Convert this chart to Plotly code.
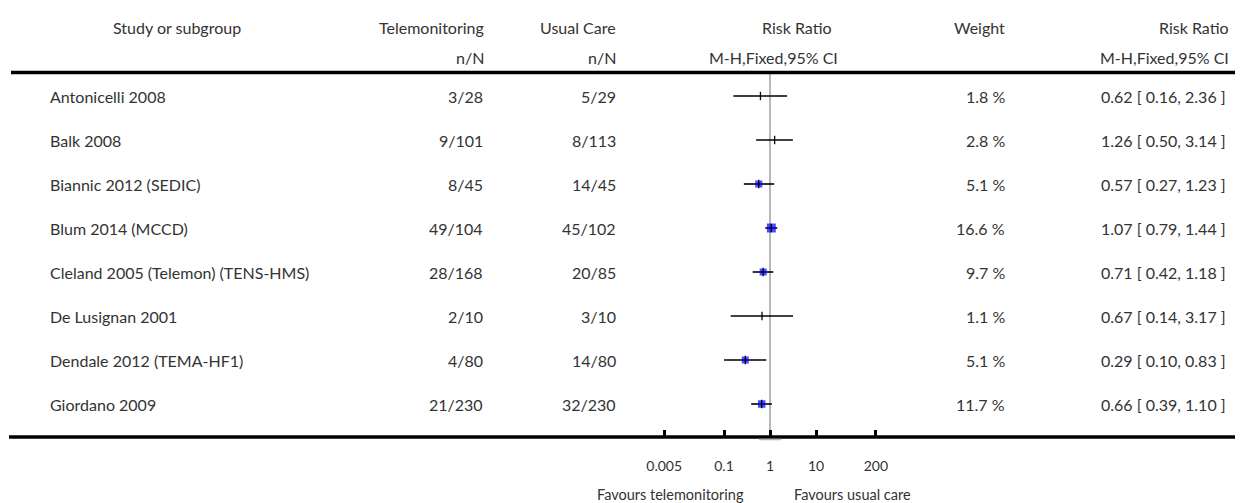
import math
import plotly.graph_objects as go

# ---------------- data ----------------
studies = ["Antonicelli 2008", "Balk 2008", "Biannic 2012 (SEDIC)", "Blum 2014 (MCCD)",
           "Cleland 2005 (Telemon) (TENS-HMS)", "De Lusignan 2001",
           "Dendale 2012 (TEMA-HF1)", "Giordano 2009"]
tele_events = ["3/28", "9/101", "8/45", "49/104", "28/168", "2/10", "4/80", "21/230"]
usual_events = ["5/29", "8/113", "14/45", "45/102", "20/85", "3/10", "14/80", "32/230"]
rr = [0.62, 1.26, 0.57, 1.07, 0.71, 0.67, 0.29, 0.66]
ci_low = [0.16, 0.50, 0.27, 0.79, 0.42, 0.14, 0.10, 0.39]
ci_high = [2.36, 3.14, 1.23, 1.44, 1.18, 3.17, 0.83, 1.10]
weights = [1.8, 2.8, 5.1, 16.6, 9.7, 1.1, 5.1, 11.7]
tick_vals = [0.005, 0.1, 1, 10, 200]
tick_text = ["0.005", "0.1", "1", "10", "200"]

# ---------------- layout constants (screen pixels) ----------------
OFF = 8                 # default body margin of the page
SW, SH = 1243, 503
W, H = SW - OFF, SH - OFF
FONT = "Lato"
TXT = "#333333"
FS = 16
PX_DEC = 46.0          # pixels per decade
X_ONE = 770.0          # screen pixel where RR = 1
ROW0, ROW_H = 96.0, 44.0
AX_Y = 437.0           # screen pixel of the bottom axis line

def px(x):
    return (x - OFF) / W

def py(y):
    return 1 - (y - OFF) / H

rows = list(range(len(studies)))
x_range = [-(X_ONE - OFF) / PX_DEC, (SW - X_ONE) / PX_DEC]
y_range = [(AX_Y - ROW0) / ROW_H, -(ROW0 - OFF) / ROW_H]

fig = go.Figure()

# CI lines
cx, cy = [], []
for i in rows:
    cx += [ci_low[i], ci_high[i], None]
    cy += [i, i, None]
fig.add_trace(go.Scatter(x=cx, y=cy, mode="lines",
                         line=dict(color="black", width=1.6),
                         hoverinfo="skip", showlegend=False))

# weight boxes
def box_size(w):
    return 0 if w < 3 else max(7, 2.2 * math.sqrt(w))

fig.add_trace(go.Scatter(x=rr, y=rows, mode="markers",
                         marker=dict(symbol="square", color="#0000ff",
                                     size=[box_size(w) for w in weights],
                                     line=dict(width=0)),
                         showlegend=False, hoverinfo="skip"))
# point estimate ticks
fig.add_trace(go.Scatter(x=rr, y=rows, mode="markers",
                         marker=dict(symbol="line-ns", size=6,
                                     line=dict(color="black", width=1.3)),
                         showlegend=False, hoverinfo="skip"))

ann = []

def text(x, y, s, anchor, yref="paper", size=FS):
    ann.append(dict(x=x, y=y, xref="paper", yref=yref, text=s, showarrow=False,
                    xanchor=anchor, yanchor="middle",
                    font=dict(family=FONT, size=size, color=TXT)))

# headers
text(px(177), py(27), "Study or subgroup", "center")
text(px(486), py(27), "Telemonitoring", "right")
text(px(618), py(27), "Usual Care", "right")
text(px(797), py(27), "Risk Ratio", "center")
text(px(1007), py(27), "Weight", "right")
text(px(1231), py(27), "Risk Ratio", "right")
text(px(486), py(58), "n/N", "right")
text(px(618), py(58), "n/N", "right")
text(px(773), py(58), "M-H,Fixed,95% CI", "center")
text(px(1231), py(58), "M-H,Fixed,95% CI", "right")

# rows
for i in rows:
    text(px(48), i, studies[i], "left", yref="y")
    text(px(485), i, tele_events[i], "right", yref="y")
    text(px(618), i, usual_events[i], "right", yref="y")
    text(px(1007), i, f"{weights[i]:.1f} %", "right", yref="y")
    text(px(1228), i, f"{rr[i]:.2f} [ {ci_low[i]:.2f}, {ci_high[i]:.2f} ]", "right", yref="y")

# footer
text(px(746), py(494), "Favours telemonitoring", "right", size=14.5)
text(px(792), py(494), "Favours usual care", "left", size=14.5)

shapes = [
    # top rule
    dict(type="line", xref="paper", yref="paper", x0=px(11), x1=1, y0=py(72.5), y1=py(72.5),
         line=dict(color="black", width=3.5)),
    # bottom rule / axis line
    dict(type="line", xref="paper", yref="paper", x0=px(9), x1=1, y0=py(AX_Y), y1=py(AX_Y),
         line=dict(color="black", width=3.5)),
    # line of no effect
    dict(type="line", xref="x", yref="paper", x0=1, x1=1, y0=py(72), y1=py(AX_Y),
         line=dict(color="#b8b8b8", width=2), layer="below"),
    # small grey bar under the axis at RR = 1
    dict(type="line", xref="paper", yref="paper", x0=px(759), x1=px(781),
         y0=py(439.5), y1=py(439.5), line=dict(color="#b0b0b0", width=1.5)),
]

fig.update_layout(
    width=W, height=H,
    margin=dict(l=0, r=0, t=0, b=0),
    paper_bgcolor="white", plot_bgcolor="white",
    annotations=ann, shapes=shapes,
    xaxis=dict(type="log", range=x_range, domain=[0, 1],
               tickvals=tick_vals, ticktext=tick_text,
               ticks="inside", ticklen=7, tickwidth=3, tickcolor="black",
               showgrid=False, zeroline=False, showline=False,
               ticklabelstandoff=19,
               tickfont=dict(family=FONT, size=14, color=TXT), fixedrange=True),
    yaxis=dict(range=y_range, domain=[(SH - AX_Y) / H, 1],
               showgrid=False, zeroline=False, showline=False,
               showticklabels=False, ticks="", fixedrange=True),
)

fig.write_html("out.html")
